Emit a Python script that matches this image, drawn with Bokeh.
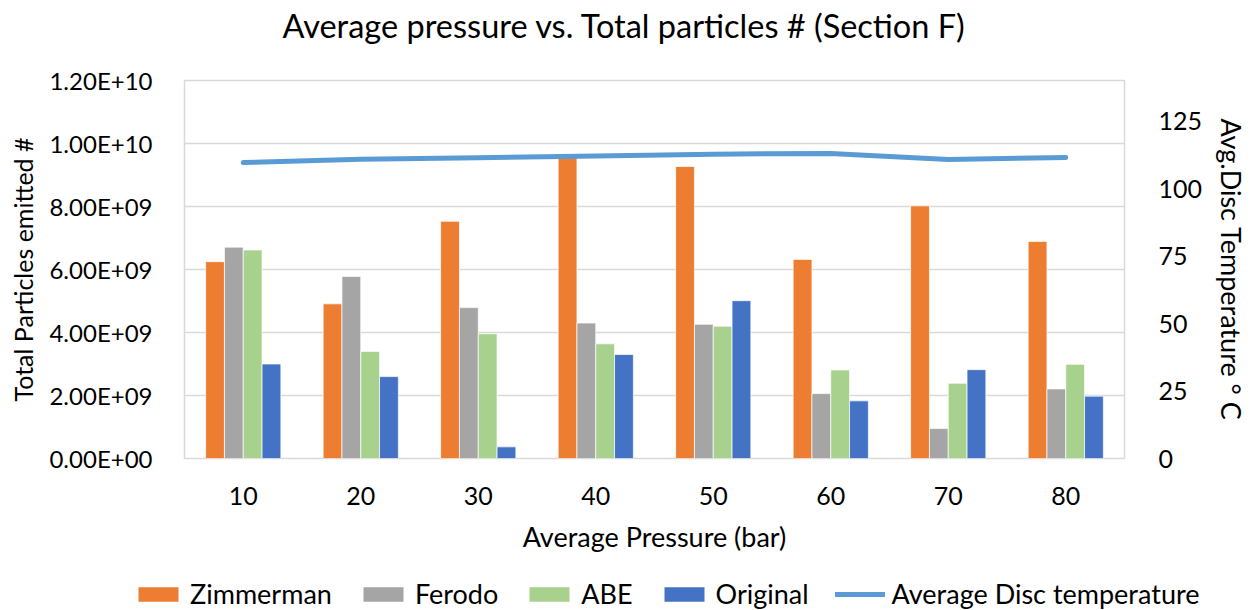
from bokeh.plotting import figure
from bokeh.layouts import column
from bokeh.models import (FactorRange, Range1d, LinearAxis, FixedTicker, CustomJSTickFormatter,
                          ColumnDataSource, Legend, LegendItem, Label)
from bokeh.transform import dodge
from bokeh.embed import file_html
from bokeh.resources import INLINE

categories = ["10", "20", "30", "40", "50", "60", "70", "80"]
zimmerman = [6.25e9, 4.91e9, 7.53e9, 9.67e9, 9.27e9, 6.32e9, 8.02e9, 6.89e9]
ferodo    = [6.71e9, 5.78e9, 4.79e9, 4.30e9, 4.26e9, 2.06e9, 0.95e9, 2.21e9]
abe       = [6.62e9, 3.40e9, 3.96e9, 3.64e9, 4.20e9, 2.81e9, 2.39e9, 2.99e9]
original  = [3.00e9, 2.60e9, 0.37e9, 3.30e9, 5.01e9, 1.83e9, 2.82e9, 1.98e9]
avg_temp  = [109.6, 110.8, 111.4, 112.0, 112.7, 113.0, 110.7, 111.5]
left_ticks = [0, 2e9, 4e9, 6e9, 8e9, 1e10, 1.2e10]
right_ticks = [0, 25, 50, 75, 100, 125]
title_text = "Average pressure vs. Total particles # (Section F)"
series_names = ["Zimmerman", "Ferodo", "ABE", "Original"]
line_name = "Average Disc temperature"

FONT = "Lato"
TXT = "#000000"
GRID = "#D9D9D9"
colors = ["#ED7D31", "#A5A5A5", "#A9D18E", "#4472C4"]
line_color = "#5B9BD5"

def strip(h):
    f = figure(width=1251, height=h, x_range=Range1d(0, 1), y_range=Range1d(0, 1),
               output_backend="svg", toolbar_location=None, x_axis_location=None,
               y_axis_location=None, min_border=0, outline_line_color=None)
    f.xgrid.grid_line_color = None
    f.ygrid.grid_line_color = None
    f.frame_align = False
    return f

# ---- title strip ----
tf = strip(50)
tf.add_layout(Label(x=624, y=25, x_units="screen", y_units="screen", text=title_text,
                    text_align="center", text_baseline="middle", text_font=FONT,
                    text_font_size="32.5px", text_color=TXT))

# ---- main chart ----
src = ColumnDataSource(dict(cat=categories, z=zimmerman, f=ferodo, a=abe, o=original, t=avg_temp))

p = figure(width=1251, height=520, x_range=FactorRange(factors=categories),
           y_range=Range1d(0, 1.2e10), output_backend="svg", toolbar_location=None,
           min_border_left=184, min_border_right=121, min_border_top=30, min_border_bottom=112)
p.frame_align = False
p.extra_y_ranges = {"temp": Range1d(0, 140)}

p.outline_line_color = GRID
p.outline_line_width = 1.5
p.xgrid.grid_line_color = None
p.ygrid.grid_line_color = GRID
p.ygrid.grid_line_width = 1.5
p.ygrid.ticker = FixedTicker(ticks=left_ticks)

keys = ["z", "f", "a", "o"]
offs = [-0.24, -0.08, 0.08, 0.24]
for k, c, off in zip(keys, colors, offs):
    p.vbar(x=dodge("cat", off, range=p.x_range), top=k, width=0.16, source=src,
           fill_color=c, line_color="white", line_width=1, line_alpha=0.7)

p.line(x="cat", y="t", source=src, y_range_name="temp", line_color=line_color,
       line_width=5, line_cap="round", line_join="round")

xa = p.xaxis[0]
xa.axis_label = "Average Pressure (bar)"
ya = p.yaxis[0]
ya.axis_label = "Total Particles emitted #"
ya.ticker = FixedTicker(ticks=left_ticks)
ya.formatter = CustomJSTickFormatter(code="""
const s = tick.toExponential(2);
const parts = s.split('e');
const sign = parts[1][0];
let d = parts[1].slice(1);
if (d.length < 2) d = '0' + d;
return parts[0] + 'E' + sign + d;
""")

ra = LinearAxis(y_range_name="temp", ticker=FixedTicker(ticks=right_ticks),
                axis_label="Avg.Disc Temperature \u00b0 C")
p.add_layout(ra, "right")

for ax in [xa, ya, ra]:
    ax.axis_line_color = None
    ax.major_tick_line_color = None
    ax.minor_tick_line_color = None
    ax.major_label_text_font = FONT
    ax.major_label_text_font_size = "25px"
    ax.major_label_text_color = TXT
    ax.axis_label_text_font = FONT
    ax.axis_label_text_font_style = "normal"
    ax.axis_label_text_color = TXT
ya.major_label_text_font_size = "24px"
xa.axis_label_text_font_size = "27px"
ya.axis_label_text_font_size = "25px"
ra.axis_label_text_font_size = "27px"
xa.major_label_standoff = 22
xa.axis_label_standoff = 12
ya.major_label_standoff = 26
ya.axis_label_standoff = 8
ra.major_label_standoff = 28
ra.axis_label_standoff = 10

# ---- legend strip ----
lg = strip(40)
items = []
for n, c in zip(series_names, colors):
    r = lg.vbar(x=[5], top=[1], width=0.1, fill_color=c, line_color=None)
    items.append(LegendItem(label=n, renderers=[r]))
rl = lg.line(x=[5, 6], y=[0.5, 0.5], line_color=line_color, line_width=5, line_cap="round")
items.append(LegendItem(label=line_name, renderers=[rl]))
leg = Legend(items=items, orientation="horizontal", location=(133, 0),
             glyph_width=50, glyph_height=18, label_standoff=7, spacing=26,
             label_text_font=FONT, label_text_font_size="27px", label_text_color=TXT,
             border_line_color=None, background_fill_alpha=0, padding=0, margin=0)
lg.add_layout(leg, "center")

open("out.html", "w").write(file_html(column(tf, p, lg), INLINE))
